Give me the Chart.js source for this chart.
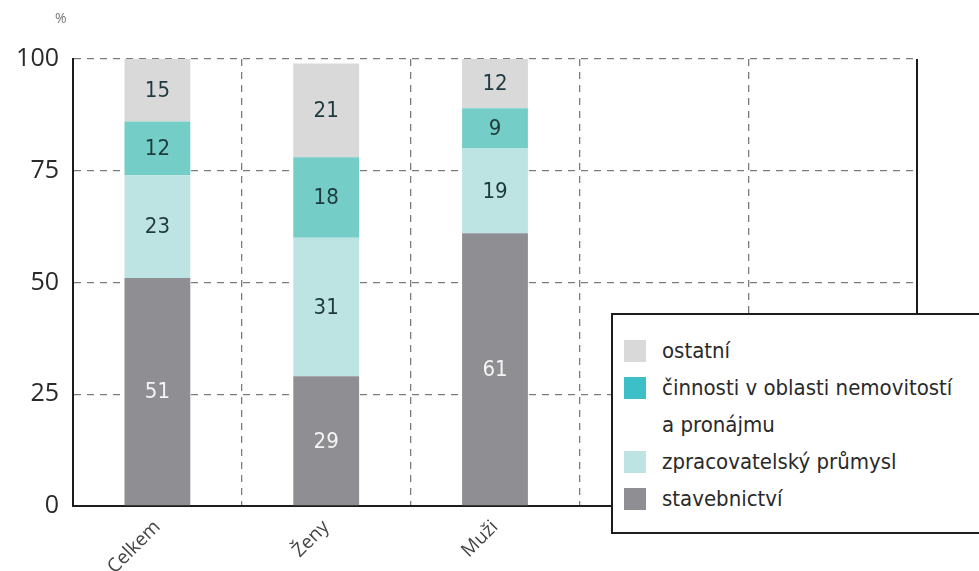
<!DOCTYPE html>
<html>
<head>
<meta charset="utf-8">
<script src="https://cdn.jsdelivr.net/npm/chart.js@4"></script>
<style>
  html, body { margin: 0; padding: 0; background: #fff; overflow: hidden; }
  #wrap { position: relative; width: 979px; height: 571px; }
  #pct { position: absolute; left: 55px; top: 8px; font: 14px "Open Sans", sans-serif; color: #777; }
  #legend {
    position: absolute; left: 611px; top: 313px; width: 400px; height: 221px;
    border: 2px solid #1c1c1c; background: #fff; box-sizing: border-box;
    font-family: "Liberation Sans Narrow", "DejaVu Sans Condensed", sans-serif;
    font-size: 22px; color: #2a2a2a;
  }
  .row { position: absolute; left: 0; height: 36px; line-height: 36px; }
  .sw { position: absolute; left: 11px; top: 7px; width: 22px; height: 22px; }
  .tx { position: absolute; left: 49px; top: 0; white-space: nowrap; }
</style>
</head>
<body>
<div id="wrap">
  <canvas id="c" width="979" height="571"></canvas>
  <div id="pct">%</div>
  <div id="legend"></div>
</div>
<script>
// categories (two empty slots keep the extra columns of the grid)
const categories = ['Celkem', 'Ženy', 'Muži', '', ''];

// series values, % (bottom to top)
const stavebnictvi = [51, 29, 61];
const zpracovatelsky = [23, 31, 19];
const nemovitosti = [12, 18, 9];
const ostatni = [15, 21, 12];

const yTicks = [0, 25, 50, 75, 100];

const seriesNames = ['stavebnictví', 'zpracovatelský průmysl', 'činnosti v oblasti nemovitostí', 'ostatní'];
const barColors = ['#8f8f93', '#bde4e2', '#74cdc6', '#d9d9d9'];
const labelColors = ['#f4f4f4', '#1f3a3f', '#1f3a3f', '#1f3a3f'];

const seriesData = [stavebnictvi, zpracovatelsky, nemovitosti, ostatni];

// legend: top to bottom, with the wrapped second line
const legendRows = [
    { text: 'ostatní', color: '#d9d9d9' },
    { text: 'činnosti v oblasti nemovitostí', color: '#3dbfc7' },
    { text: 'a pronájmu', color: null },
    { text: 'zpracovatelský průmysl', color: '#bde4e2' },
    { text: 'stavebnictví', color: '#8f8f93' }
];

const legendEl = document.getElementById('legend');
legendEl.innerHTML = legendRows.map((r, i) => `
    <div class="row" style="top:${18 + i * 37}px">
        ${r.color ? `<div class="sw" style="background:${r.color}"></div>` : ''}
        <div class="tx">${r.text}</div>
    </div>`).join('');

const narrow = '"Liberation Sans Narrow", "DejaVu Sans Condensed", sans-serif';

// values written in the middle of each segment
const segmentLabels = {
    id: 'segmentLabels',
    afterDatasetsDraw(chart) {
        const ctx = chart.ctx;
        ctx.save();
        ctx.font = '22px ' + narrow;
        ctx.textAlign = 'center';
        ctx.textBaseline = 'middle';
        chart.data.datasets.forEach((ds, di) => {
            const meta = chart.getDatasetMeta(di);
            meta.data.forEach((bar, i) => {
                const v = ds.data[i];
                if (v == null) return;
                const top = Math.max(bar.y, chart.chartArea.top);
                ctx.fillStyle = labelColors[di];
                ctx.fillText(String(v), bar.x, (top + bar.base) / 2 + 1);
            });
        });
        ctx.restore();
    }
};

// solid frame line on the right side of the plot
const rightFrame = {
    id: 'rightFrame',
    afterDraw(chart) {
        const { ctx, chartArea } = chart;
        ctx.save();
        ctx.strokeStyle = '#1c1c1c';
        ctx.lineWidth = 2;
        ctx.setLineDash([]);
        ctx.beginPath();
        ctx.moveTo(chartArea.right, chartArea.top);
        ctx.lineTo(chartArea.right, chartArea.bottom);
        ctx.stroke();
        ctx.restore();
    }
};

new Chart(document.getElementById('c'), {
    type: 'bar',
    data: {
        labels: categories,
        datasets: seriesData.map((d, i) => ({
            label: seriesNames[i],
            data: d,
            backgroundColor: barColors[i],
            borderWidth: 0,
            categoryPercentage: 1,
            barPercentage: 0.39
        }))
    },
    options: {
        responsive: false,
        animation: false,
        layout: { padding: { top: 59, right: 62, left: 0, bottom: 0 } },
        plugins: {
            legend: { display: false },
            tooltip: { enabled: false }
        },
        scales: {
            x: {
                stacked: true,
                afterFit: (s) => { s.height = 65; },
                grid: {
                    color: (c) => c.index === 0 ? 'rgba(0,0,0,0)' : '#7c7c7c',
                    lineWidth: 1.3,
                    drawTicks: false,
                    offset: true
                },
                border: { display: true, color: '#1c1c1c', width: 2, dash: [7, 6] },
                ticks: {
                    color: '#444',
                    font: { family: '"Open Sans", sans-serif', size: 19 },
                    minRotation: 45,
                    maxRotation: 45,
                    padding: 10
                }
            },
            y: {
                stacked: true,
                min: 0,
                max: 100,
                afterFit: (s) => { s.width = 73; },
                afterBuildTicks: (s) => { s.ticks = yTicks.map(v => ({ value: v })); },
                grid: {
                    color: (c) => c.tick && c.tick.value === 0 ? 'rgba(0,0,0,0)' : '#7c7c7c',
                    lineWidth: 1.3,
                    drawTicks: false
                },
                border: { display: true, color: '#1c1c1c', width: 2, dash: [7, 6] },
                ticks: {
                    color: '#2a2a2a',
                    font: { family: '"Open Sans", sans-serif', size: 25 },
                    padding: 14
                }
            }
        }
    },
    plugins: [segmentLabels, rightFrame]
});
</script>
</body>
</html>
